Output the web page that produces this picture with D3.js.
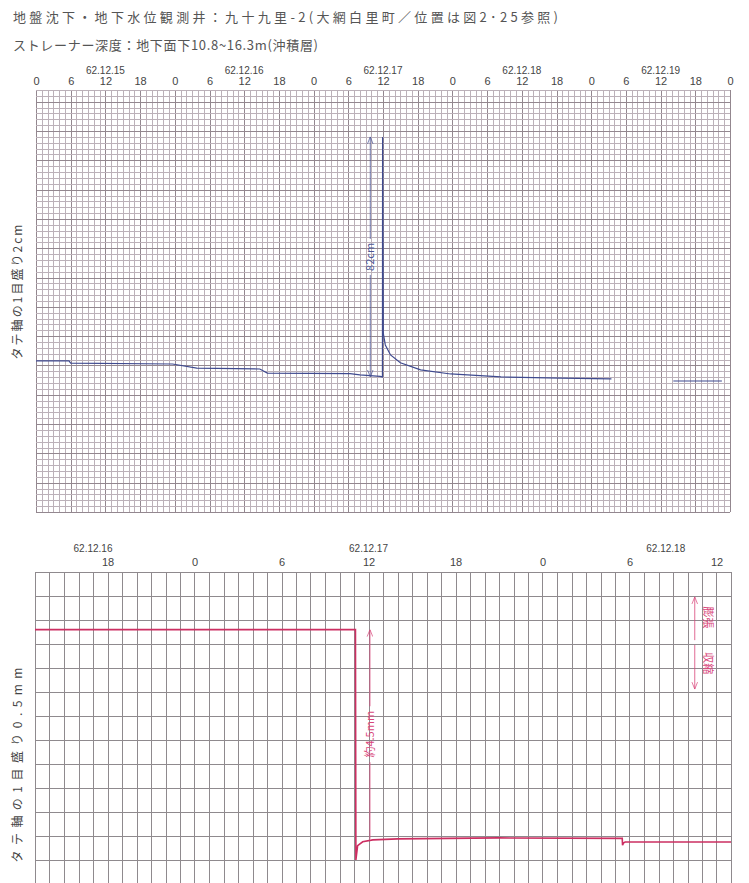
<!DOCTYPE html>
<html>
<head>
<meta charset="utf-8">
<script src="https://cdn.jsdelivr.net/npm/d3@7"></script>
<style>
  body { margin: 0; background: #fff; }
  svg { display: block; font-family: "Noto Sans CJK JP", "Noto Sans", sans-serif; }
</style>
</head>
<body>
<div id="chart"></div>
<script>
// 上段：地下水位（タテ軸 1目盛り 2cm）
const topDates = ["62.12.15", "62.12.16", "62.12.17", "62.12.18", "62.12.19"];
const topTickHours = [0, 6, 12, 18, 24, 30, 36, 42, 48, 54, 60, 66, 72, 78, 84, 90, 96, 102, 108, 114, 120];
const topHours = [0, 5.7, 6.0, 23.6, 27.8, 38.7, 40, 54.3, 56, 59.5, 59.9, 59.93, 60.05, 60.4, 61.3, 63, 66.5, 71.7, 80.4, 90.8, 99.5];
const topLevel = [51.6, 51.6, 50.8, 50.5, 49.1, 48.8, 47.4, 47.2, 46.8, 46.3, 46.1, 128, 61, 57, 53.6, 50.9, 48.5, 47.1, 46.1, 45.7, 45.4];
const topHours2 = [110.2, 118.6];
const topLevel2 = [44.7, 44.7];

// 下段：地盤変動（タテ軸 1目盛り 0.5mm）
const botDates = ["62.12.16", "62.12.17", "62.12.18"];
const botDateHours = [17, 36, 56.5];
const botTickHours = [18, 24, 30, 36, 42, 48, 54, 60];
const botHours = [13, 35.1, 35.13, 35.25, 35.6, 36.3, 38, 45, 53.5, 53.52, 53.6, 53.7, 61];
const botLevel = [5.3, 5.3, 0.5, 0.8, 0.88, 0.92, 0.94, 0.96, 0.95, 0.81, 0.86, 0.875, 0.875];

const width = 749, height = 883;

let svg = d3.select("#chart").append("svg")
    .attr("width", width)
    .attr("height", height);

let defs = svg.append("defs");
[["arrow-blue", "#4b5596"], ["arrow-red", "#d8457a"]].forEach(([id, c]) => {
    defs.append("marker")
        .attr("id", id)
        .attr("viewBox", "0 -5 10 10")
        .attr("refX", 10)
        .attr("refY", 0)
        .attr("markerWidth", 7)
        .attr("markerHeight", 7)
        .attr("markerUnits", "userSpaceOnUse")
        .attr("orient", "auto-start-reverse")
        .append("path")
        .attr("d", "M0,-4L10,0L0,4")
        .attr("fill", "none")
        .attr("stroke", c)
        .attr("stroke-width", 1);
});

// タイトル
svg.append("text")
    .attr("x", 13).attr("y", 22)
    .attr("font-size", 13)
    .attr("fill", "#555")
    .attr("textLength", 545)
    .text("地盤沈下・地下水位観測井：九十九里-2(大網白里町／位置は図2･25参照)");
svg.append("text")
    .attr("x", 13).attr("y", 50)
    .attr("font-size", 13)
    .attr("fill", "#555")
    .attr("textLength", 305)
    .text("ストレーナー深度：地下面下10.8~16.3m(沖積層)");

// ---------- 上段 ----------
let xTop = d3.scaleLinear().domain([0, 120]).range([36, 730]);
let yTop = d3.scaleLinear().domain([0, 144]).range([512, 90]);

let gTop = svg.append("g").attr("class", "chart-top");

gTop.append("g")
    .selectAll("line")
    .data(d3.range(0, 121))
    .join("line")
    .attr("x1", d => Math.round(xTop(d)) + 0.5)
    .attr("x2", d => Math.round(xTop(d)) + 0.5)
    .attr("y1", yTop(144)).attr("y2", yTop(0))
    .attr("stroke", d => d % 6 === 0 ? "#93878f" : "#bcb1b9")
    .attr("stroke-width", 1);

gTop.append("g")
    .selectAll("line")
    .data(d3.range(0, 145, 2))
    .join("line")
    .attr("x1", xTop(0)).attr("x2", xTop(120))
    .attr("y1", d => Math.round(yTop(d)) + 0.5)
    .attr("y2", d => Math.round(yTop(d)) + 0.5)
    .attr("stroke", d => d % 10 === 0 ? "#93878f" : "#bcb1b9")
    .attr("stroke-width", 1);

let axTop = gTop.append("g")
    .attr("transform", `translate(0,${yTop(144)})`)
    .call(d3.axisTop(xTop).tickValues(topTickHours).tickSize(0).tickPadding(5).tickFormat(d => d % 24));
axTop.select(".domain").remove();
axTop.selectAll("text").attr("font-size", 11).attr("fill", "#444").attr("font-family", "Liberation Sans, Arial, sans-serif");

gTop.append("g")
    .selectAll("text")
    .data(topDates)
    .join("text")
    .attr("x", (d, i) => xTop(12 + 24 * i))
    .attr("y", 74)
    .attr("text-anchor", "middle")
    .attr("font-size", 10)
    .attr("fill", "#444")
    .attr("font-family", "Liberation Sans, Arial, sans-serif")
    .text(d => d);

let lineTop = d3.line().x(d => xTop(d[0])).y(d => yTop(d[1]));

gTop.append("path")
    .datum(d3.zip(topHours, topLevel))
    .attr("d", lineTop)
    .attr("fill", "none")
    .attr("stroke", "#3f4a8f")
    .attr("stroke-width", 1.2);
gTop.append("path")
    .datum(d3.zip(topHours2, topLevel2))
    .attr("d", lineTop)
    .attr("fill", "none")
    .attr("stroke", "#3f4a8f")
    .attr("stroke-width", 1.2);

// 82cm の矢印
let aX = xTop(57.8), aTop = yTop(128), aBot = yTop(46.1), aMid = (aTop + aBot) / 2;
gTop.append("line")
    .attr("x1", aX).attr("x2", aX).attr("y1", aMid - 18).attr("y2", aTop)
    .attr("stroke", "#4b5596").attr("stroke-width", 0.8)
    .attr("marker-end", "url(#arrow-blue)");
gTop.append("line")
    .attr("x1", aX).attr("x2", aX).attr("y1", aMid + 18).attr("y2", aBot)
    .attr("stroke", "#4b5596").attr("stroke-width", 0.8)
    .attr("marker-end", "url(#arrow-blue)");
gTop.append("text")
    .attr("transform", `translate(${aX + 4},${aMid}) rotate(-90)`)
    .attr("text-anchor", "middle")
    .attr("font-size", 11)
    .attr("fill", "#4b5596")
    .text("82cm");

svg.append("text")
    .attr("transform", `translate(22,292) rotate(-90)`)
    .attr("text-anchor", "middle")
    .attr("font-size", 12)
    .attr("fill", "#444")
    .attr("textLength", 135)
    .text("タテ軸の1目盛り2cm");

// ---------- 下段 ----------
let xBot = d3.scaleLinear().domain([13, 61]).range([35, 731]);
let yBot = d3.scaleLinear().domain([0, 6.5]).range([884, 572]);

let gBot = svg.append("g").attr("class", "chart-bottom");

gBot.append("g")
    .selectAll("line")
    .data(d3.range(13, 62))
    .join("line")
    .attr("x1", d => Math.round(xBot(d)) + 0.5)
    .attr("x2", d => Math.round(xBot(d)) + 0.5)
    .attr("y1", yBot(6.5)).attr("y2", yBot(0))
    .attr("stroke", "#8f8a8e")
    .attr("stroke-width", 1);

gBot.append("g")
    .selectAll("line")
    .data(d3.range(0, 13.5).map(d => d * 0.5))
    .join("line")
    .attr("x1", xBot(13)).attr("x2", xBot(61))
    .attr("y1", d => Math.round(yBot(d)) + 0.5)
    .attr("y2", d => Math.round(yBot(d)) + 0.5)
    .attr("stroke", "#8f8a8e")
    .attr("stroke-width", 1);

let axBot = gBot.append("g")
    .attr("transform", `translate(0,${yBot(6.5)})`)
    .call(d3.axisTop(xBot).tickValues(botTickHours).tickSize(0).tickPadding(6).tickFormat(d => d % 24));
axBot.select(".domain").remove();
axBot.selectAll("text").attr("font-size", 11).attr("fill", "#444").attr("font-family", "Liberation Sans, Arial, sans-serif");

gBot.append("g")
    .selectAll("text")
    .data(botDates)
    .join("text")
    .attr("x", (d, i) => xBot(botDateHours[i]))
    .attr("y", 552)
    .attr("text-anchor", "middle")
    .attr("font-size", 10)
    .attr("fill", "#444")
    .attr("font-family", "Liberation Sans, Arial, sans-serif")
    .text(d => d);

let lineBot = d3.line().x(d => xBot(d[0])).y(d => yBot(d[1]));

gBot.append("path")
    .datum(d3.zip(botHours, botLevel))
    .attr("d", lineBot)
    .attr("fill", "none")
    .attr("stroke", "#cc2f62")
    .attr("stroke-width", 1.6);

// 約4.5mm の矢印
let bX = xBot(36.1), bTop = yBot(5.3), bBot = yBot(0.94), bMid = (bTop + bBot) / 2;
gBot.append("line")
    .attr("x1", bX).attr("x2", bX).attr("y1", bMid - 28).attr("y2", bTop)
    .attr("stroke", "#d8457a").attr("stroke-width", 0.8)
    .attr("marker-end", "url(#arrow-red)");
gBot.append("line")
    .attr("x1", bX).attr("x2", bX).attr("y1", bMid + 28).attr("y2", bBot)
    .attr("stroke", "#d8457a").attr("stroke-width", 0.8);
gBot.append("text")
    .attr("transform", `translate(${bX + 4},${bMid}) rotate(-90)`)
    .attr("text-anchor", "middle")
    .attr("font-size", 11)
    .attr("fill", "#d8457a")
    .text("約4.5mm");

// 膨張 / 収縮
let cX = xBot(58.5);
gBot.append("line")
    .attr("x1", cX).attr("x2", cX).attr("y1", yBot(5.08)).attr("y2", yBot(5.98))
    .attr("stroke", "#d8457a").attr("stroke-width", 0.8)
    .attr("marker-end", "url(#arrow-red)");
gBot.append("line")
    .attr("x1", cX).attr("x2", cX).attr("y1", yBot(4.98)).attr("y2", yBot(4.06))
    .attr("stroke", "#d8457a").attr("stroke-width", 0.8)
    .attr("marker-end", "url(#arrow-red)");
gBot.append("text")
    .attr("transform", `translate(${cX + 9},${yBot(5.55)}) rotate(90)`)
    .attr("text-anchor", "middle")
    .attr("font-size", 11)
    .attr("fill", "#d8457a")
    .text("膨張");
gBot.append("text")
    .attr("transform", `translate(${cX + 9},${yBot(4.6)}) rotate(90)`)
    .attr("text-anchor", "middle")
    .attr("font-size", 11)
    .attr("fill", "#d8457a")
    .text("収縮");

svg.append("text")
    .attr("transform", `translate(22,765) rotate(-90)`)
    .attr("text-anchor", "middle")
    .attr("font-size", 12)
    .attr("fill", "#444")
    .attr("textLength", 195)
    .text("タテ軸の1目盛り0.5mm");
</script>
</body>
</html>
